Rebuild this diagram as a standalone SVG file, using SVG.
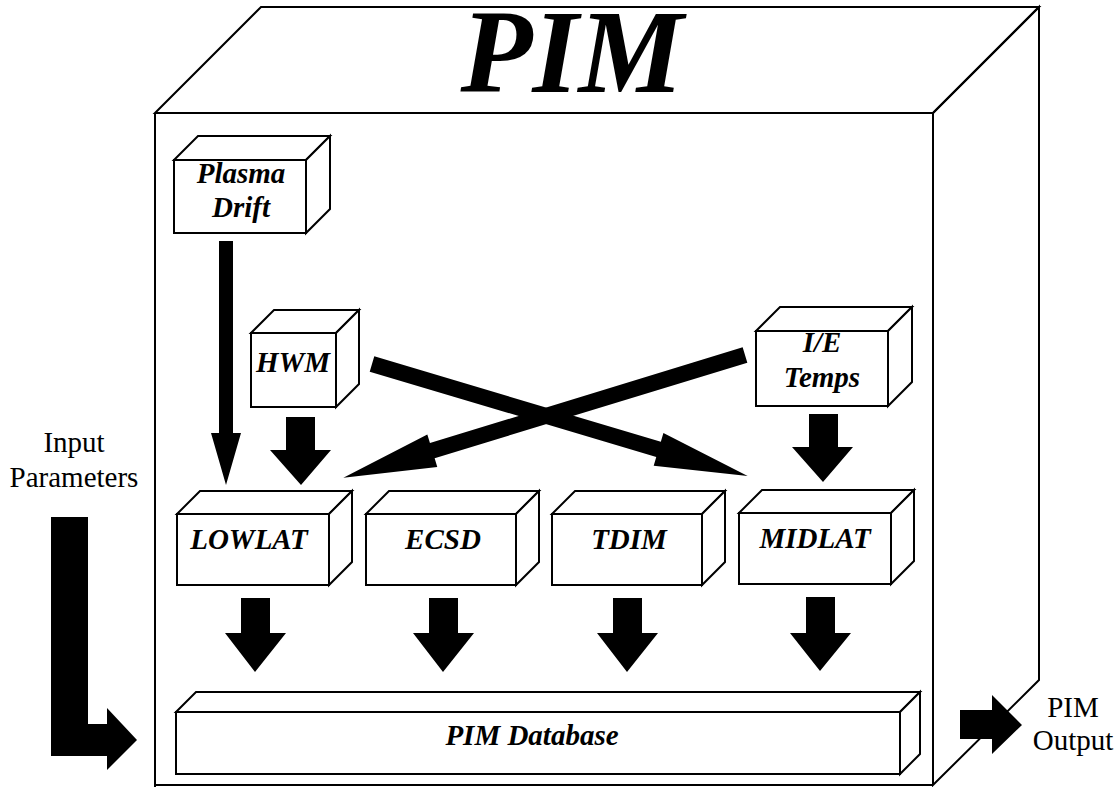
<svg xmlns="http://www.w3.org/2000/svg" width="1120" height="787" viewBox="0 0 1120 787">
  <style>
    .ln{fill:#fff;stroke:#000;stroke-width:2;stroke-linejoin:miter}
    .frame{fill:none;stroke:#000;stroke-width:2}
    .lbl{font-family:"Liberation Serif","Times New Roman",serif;font-weight:bold;font-style:italic;font-size:29px;fill:#000;text-anchor:middle}
    .plain{font-family:"Liberation Serif","Times New Roman",serif;font-size:29px;fill:#000;text-anchor:middle}
    .title{font-family:"Liberation Serif","Times New Roman",serif;font-weight:bold;font-style:italic;font-size:118px;fill:#000;text-anchor:middle}
    .arr{fill:#000;stroke:none}
  </style>
  <rect width="1120" height="787" fill="#fff"/>

  <g id="pim-frame">
    <polygon class="frame" points="155,113 261,7 1039,7 933,113"/>
    <polygon class="frame" points="933,113 1039,7 1039,680 933,785"/>
    <line class="frame" x1="155" y1="113" x2="933" y2="113"/>
    <line class="frame" x1="155" y1="113" x2="155" y2="787"/>
    <line class="frame" x1="155" y1="785" x2="933" y2="785"/>
    <text class="title" x="572" y="92">PIM</text>
  </g>

  <g id="plasma-drift">
    <rect class="ln" x="174" y="160" width="132" height="73"/>
    <polygon class="ln" points="174,160 198,136 330,136 306,160"/>
    <polygon class="ln" points="306,160 330,136 330,209 306,233"/>
    <text class="lbl" x="241" y="183">Plasma</text>
    <text class="lbl" x="241" y="217">Drift</text>
  </g>

  <g id="hwm">
    <rect class="ln" x="251" y="333" width="85" height="74"/>
    <polygon class="ln" points="251,333 274,310 359,310 336,333"/>
    <polygon class="ln" points="336,333 359,310 359,384 336,407"/>
    <text class="lbl" x="293" y="372">HWM</text>
  </g>

  <g id="ie-temps">
    <rect class="ln" x="756" y="331" width="132" height="75"/>
    <polygon class="ln" points="756,331 780,307 912,307 888,331"/>
    <polygon class="ln" points="888,331 912,307 912,382 888,406"/>
    <text class="lbl" x="822" y="352">I/E</text>
    <text class="lbl" x="822" y="387">Temps</text>
  </g>

  <g id="lowlat">
    <rect class="ln" x="177" y="514" width="152" height="71"/>
    <polygon class="ln" points="177,514 200,491 352,491 329,514"/>
    <polygon class="ln" points="329,514 352,491 352,562 329,585"/>
    <text class="lbl" x="249" y="549">LOWLAT</text>
  </g>

  <g id="ecsd">
    <rect class="ln" x="366" y="514" width="150" height="71"/>
    <polygon class="ln" points="366,514 389,491 539,491 516,514"/>
    <polygon class="ln" points="516,514 539,491 539,562 516,585"/>
    <text class="lbl" x="443" y="549">ECSD</text>
  </g>

  <g id="tdim">
    <rect class="ln" x="552" y="514" width="150" height="71"/>
    <polygon class="ln" points="552,514 575,491 725,491 702,514"/>
    <polygon class="ln" points="702,514 725,491 725,562 702,585"/>
    <text class="lbl" x="629" y="549">TDIM</text>
  </g>

  <g id="midlat">
    <rect class="ln" x="739" y="513" width="152" height="71"/>
    <polygon class="ln" points="739,513 762,490 914,490 891,513"/>
    <polygon class="ln" points="891,513 914,490 914,561 891,584"/>
    <text class="lbl" x="815" y="548">MIDLAT</text>
  </g>

  <g id="pim-database">
    <rect class="ln" x="176" y="712" width="724" height="62"/>
    <polygon class="ln" points="176,712 196,692 920,692 900,712"/>
    <polygon class="ln" points="900,712 920,692 920,754 900,774"/>
    <text class="lbl" x="532" y="745">PIM Database</text>
  </g>

  <g id="input-parameters">
    <text class="plain" x="74" y="452">Input</text>
    <text class="plain" x="74" y="487">Parameters</text>
  </g>

  <g id="pim-output">
    <text class="plain" x="1073" y="717">PIM</text>
    <text class="plain" x="1073" y="750">Output</text>
  </g>

  <g id="connectors">
    <!-- Plasma Drift -> LOWLAT (thin) -->
    <polygon class="arr" points="219,241 233,241 233,433 241,433 226,485 211,433 219,433"/>
    <!-- HWM -> LOWLAT -->
    <polygon class="arr" points="286,417 315,417 315,450 331,450 301,485 270,450 286,450"/>
    <!-- I/E Temps -> MIDLAT -->
    <polygon class="arr" points="809,414 838,414 838,447 853,447 823,482 792,447 809,447"/>
    <!-- HWM -> MIDLAT (diagonal) -->
    <polygon class="arr" transform="translate(372,364) rotate(16.59)" points="0,-8 299,-8 299,-17 392,0 299,17 299,8 0,8"/>
    <!-- I/E Temps -> LOWLAT (diagonal) -->
    <polygon class="arr" transform="translate(745,355) rotate(162.99)" points="0,-8 327,-8 327,-17 420,0 327,17 327,8 0,8"/>
    <!-- models -> PIM Database -->
    <polygon class="arr" points="241,598 270,598 270,633 286,633 255,672 225,633 241,633"/>
    <polygon class="arr" points="429,598 458,598 458,633 474,633 443,672 413,633 429,633"/>
    <polygon class="arr" points="613,598 642,598 642,633 658,633 627,672 597,633 613,633"/>
    <polygon class="arr" points="806,597 835,597 835,633 851,633 820,671 790,633 806,633"/>
    <!-- Input Parameters -> PIM Database -->
    <polygon class="arr" points="51,517 88,517 88,724 107,724 107,708 137,740 107,770 107,756 51,756"/>
    <!-- PIM -> PIM Output -->
    <polygon class="arr" points="960,710 992,710 992,695 1022,725 992,754 992,739 960,739"/>
  </g>
</svg>
